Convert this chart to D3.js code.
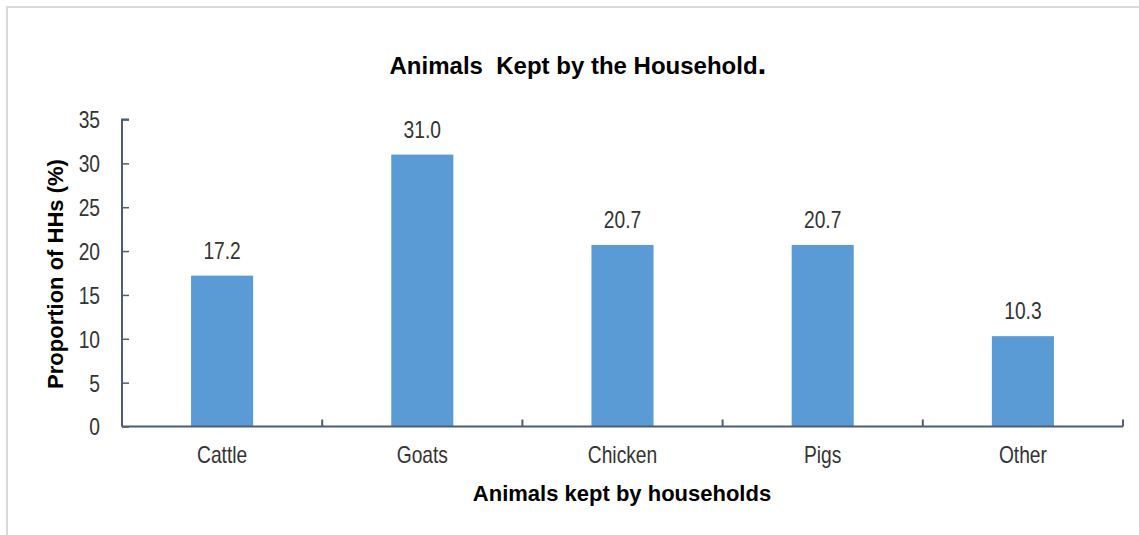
<!DOCTYPE html>
<html>
<head>
<meta charset="utf-8">
<script src="https://cdn.jsdelivr.net/npm/d3@7"></script>
<style>
  html, body { margin: 0; padding: 0; background: #fff; }
  svg { display: block; }
  text { font-family: "Liberation Sans", Arial, sans-serif; }
</style>
</head>
<body>
<svg id="chart" width="1139" height="535"></svg>
<script>
const categories = ["Cattle", "Goats", "Chicken", "Pigs", "Other"];
const values = [17.2, 31.0, 20.7, 20.7, 10.3];
const yTicks = [0, 5, 10, 15, 20, 25, 30, 35];
const chartTitle = "Animals  Kept by the Household";
const xTitle = "Animals kept by households";
const yTitle = "Proportion of HHs (%)";

const svg = d3.select("#chart");
const W = 1139, H = 535;
const m = { left: 122, right: 1123, top: 119.5, bottom: 426.5 };
const axisColor = "#4e5d74";
const barColor = "#5b9bd5";
const textColor = "#333";
const SX = 0.8;   // horizontal condensation to mimic a narrow face
const FS = 24;

// frame
svg.append("line").attr("x1", 6).attr("x2", W).attr("y1", 7).attr("y2", 7)
  .attr("stroke", "#d9d9d9").attr("stroke-width", 2);
svg.append("line").attr("x1", 7).attr("x2", 7).attr("y1", 6).attr("y2", H)
  .attr("stroke", "#d9d9d9").attr("stroke-width", 2);

const x = d3.scaleBand().domain(categories).range([m.left, m.right]).paddingInner(0.69).paddingOuter(0.345);
const xb = d3.scaleBand().domain(categories).range([m.left, m.right]);
const y = d3.scaleLinear().domain([0, 35]).range([m.bottom, m.top]);

// bars
svg.append("g").selectAll("rect").data(values).join("rect")
  .attr("x", (d, i) => x(categories[i]))
  .attr("width", x.bandwidth())
  .attr("y", d => y(d))
  .attr("height", d => y(0) - y(d))
  .attr("fill", barColor);

// value labels
svg.append("g").selectAll("text").data(values).join("text")
  .attr("transform", (d, i) => `translate(${x(categories[i]) + x.bandwidth() / 2},${y(d) - 17}) scale(${SX},1)`)
  .attr("text-anchor", "middle")
  .attr("font-size", FS)
  .attr("fill", textColor)
  .text(d => d.toFixed(1));

// y axis
const yAxis = svg.append("g").attr("transform", `translate(${m.left},0)`)
  .call(d3.axisRight(y).tickValues(yTicks).tickSize(7).tickFormat(d3.format("d")));
yAxis.select(".domain").attr("stroke", axisColor).attr("stroke-width", 2)
  .attr("d", `M7,${m.top}H0V${m.bottom}`);
yAxis.selectAll(".tick line").attr("stroke", axisColor).attr("stroke-width", 1.5);
yAxis.selectAll(".tick text").attr("x", 0).attr("dy", "0.35em")
  .attr("transform", `translate(-22,0) scale(${SX},1)`)
  .attr("text-anchor", "end").attr("font-size", FS).attr("fill", textColor);

// x axis
const xAxis = svg.append("g").attr("transform", `translate(0,${m.bottom})`)
  .call(d3.axisBottom(xb).tickSize(0));
xAxis.select(".domain").attr("stroke", axisColor).attr("stroke-width", 2)
  .attr("d", `M${m.left},0H${m.right}`);
xAxis.selectAll(".tick text").attr("y", 0).attr("dy", "0.35em")
  .attr("transform", `translate(0,28) scale(${SX},1)`)
  .attr("font-size", FS).attr("fill", textColor);
// category boundary ticks
const bounds = categories.map(c => xb(c)).concat([m.right]);
xAxis.append("g").selectAll("line").data(bounds).join("line")
  .attr("x1", d => d).attr("x2", d => d).attr("y1", 0).attr("y2", -7)
  .attr("stroke", axisColor).attr("stroke-width", 2);

// titles
const title = svg.append("text")
  .attr("x", 578).attr("y", 74).attr("text-anchor", "middle")
  .attr("font-size", 24).attr("font-weight", "bold").attr("fill", "#000")
  .style("white-space", "pre");
title.append("tspan").text(chartTitle);
title.append("tspan").text(".").attr("font-size", 32);

svg.append("text")
  .attr("x", 622).attr("y", 501).attr("text-anchor", "middle")
  .attr("font-size", 22).attr("font-weight", "bold").attr("fill", "#000")
  .text(xTitle);

svg.append("text")
  .attr("transform", `translate(63,274) rotate(-90)`)
  .attr("text-anchor", "middle")
  .attr("font-size", 22).attr("font-weight", "bold").attr("fill", "#000")
  .text(yTitle);
</script>
</body>
</html>
